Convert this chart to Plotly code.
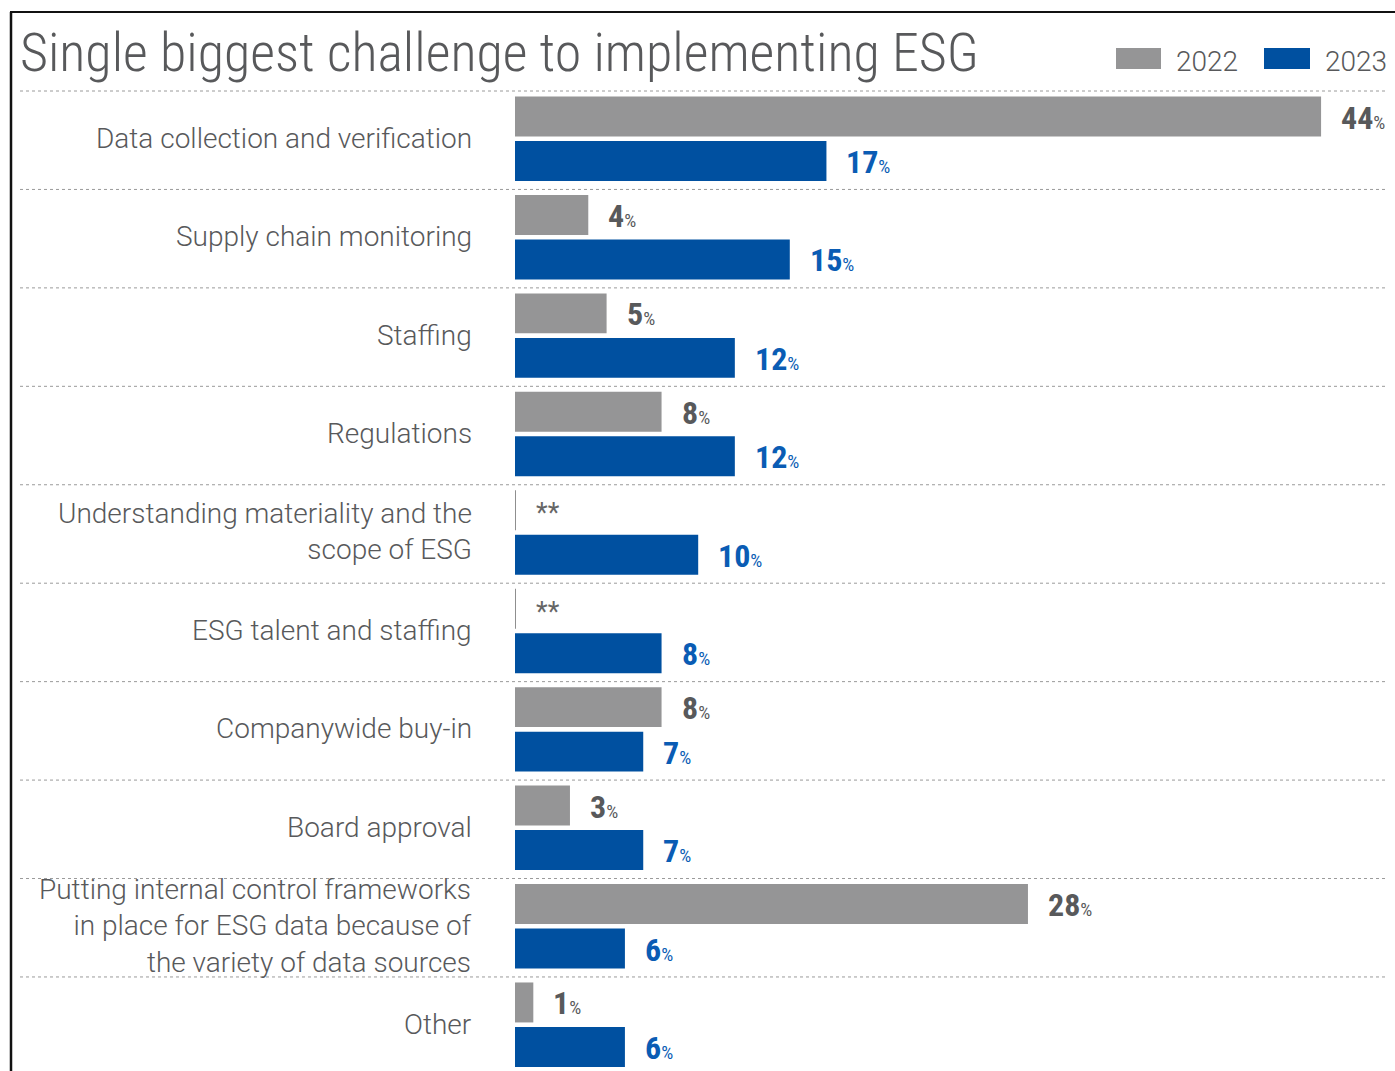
import plotly.graph_objects as go

W, H = 1395, 1071

title_text = "Single biggest challenge to implementing ESG"
categories = [
    "Data collection and verification",
    "Supply chain monitoring",
    "Staffing",
    "Regulations",
    "Understanding materiality and the<br>scope of ESG",
    "ESG talent and staffing",
    "Companywide buy-in",
    "Board approval",
    "Putting internal control frameworks<br>in place for ESG data because of<br>the variety of data sources",
    "Other",
]
values_2022 = [44, 4, 5, 8, None, None, 8, 3, 28, 1]
values_2023 = [17, 15, 12, 12, 10, 8, 7, 7, 6, 6]
series_names = ["2022", "2023"]

GRAY = "#959596"
BLUE = "#0050A0"
GRAY_TXT = "#58595b"
BLUE_TXT = "#0a5cb4"
LABEL_TXT = "#58595b"

OFF_A, OFF_B, BAR_W = 0.259, 0.711, 0.406
n = len(categories)
rows = list(range(n))

fig = go.Figure()
fig.add_trace(go.Bar(
    y=[r + OFF_A for r in rows], x=[v if v is not None else 0 for v in values_2022],
    orientation="h", width=BAR_W, marker=dict(color=GRAY, line=dict(width=0)),
    name=series_names[0], showlegend=False, hoverinfo="x"))
fig.add_trace(go.Bar(
    y=[r + OFF_B for r in rows], x=values_2023,
    orientation="h", width=BAR_W, marker=dict(color=BLUE, line=dict(width=0)),
    name=series_names[1], showlegend=False, hoverinfo="x"))

ann = []
shapes = []
COND = "Roboto Condensed, Roboto, sans-serif"
LIGHT = "Roboto, sans-serif"

def val_label(v):
    return f"<b>{v}</b><span style='font-size:19px'>%</span>"

for r, cat, a, b in zip(rows, categories, values_2022, values_2023):
    ann.append(dict(x=474 / W, xref="paper", y=r + 0.5, yref="y", text=cat,
                    xanchor="right", yanchor="middle", align="right", showarrow=False,
                    font=dict(family=LIGHT, size=28, color=LABEL_TXT, weight=300),
                    yshift=2))
    if a is None:
        ann.append(dict(x=0, y=r + OFF_A, xref="x", yref="y", text="**", xanchor="left",
                        yanchor="middle", showarrow=False, xshift=19, yshift=-3,
                        font=dict(family=LIGHT, size=27, color="#666666")))
        shapes.append(dict(type="line", xref="x", yref="y", x0=0, x1=0,
                           y0=r + OFF_A - BAR_W / 2, y1=r + OFF_A + BAR_W / 2,
                           line=dict(color="#8f8f8f", width=2)))
    else:
        ann.append(dict(x=a, y=r + OFF_A, xref="x", yref="y", text=val_label(a),
                        xanchor="left", yanchor="middle", showarrow=False, xshift=18, yshift=-1,
                        font=dict(family=COND, size=32, color=GRAY_TXT)))
    ann.append(dict(x=b, y=r + OFF_B, xref="x", yref="y", text=val_label(b),
                    xanchor="left", yanchor="middle", showarrow=False, xshift=18, yshift=-1,
                    font=dict(family=COND, size=32, color=BLUE_TXT)))

# separators
for r in rows:
    shapes.append(dict(type="line", xref="paper", yref="y", x0=20 / W, x1=1388 / W,
                       y0=r, y1=r, line=dict(color="#9a9a9a", width=1, dash="dot")))

# frame
shapes.append(dict(type="line", xref="paper", yref="paper", x0=10 / W, x1=1.0,
                   y0=1 - 12 / H, y1=1 - 12 / H, line=dict(color="#111111", width=2)))
shapes.append(dict(type="line", xref="paper", yref="paper", x0=11 / W, x1=11 / W,
                   y0=0, y1=1 - 12 / H, line=dict(color="#111111", width=2.5)))

# legend
for (x0, x1, col, tx, name) in [(1116, 1161, GRAY, 1174, series_names[0]),
                                (1264, 1310, BLUE, 1323, series_names[1])]:
    shapes.append(dict(type="rect", xref="paper", yref="paper", x0=x0 / W, x1=x1 / W,
                       y0=1 - 69 / H, y1=1 - 48 / H, fillcolor=col, line=dict(width=0)))
    ann.append(dict(x=tx / W, y=1 - 61 / H, xref="paper", yref="paper", text=name,
                    xanchor="left", yanchor="middle", showarrow=False,
                    font=dict(family=LIGHT, size=28, color=LABEL_TXT, weight=300)))

# title
ann.append(dict(x=18 / W, y=1 - 52 / H, xref="paper", yref="paper", text=title_text,
                xanchor="left", yanchor="middle", showarrow=False,
                font=dict(family=COND, size=54, color="#58595b", weight=300)))

fig.update_layout(
    width=W, height=H, margin=dict(l=0, r=0, t=0, b=0),
    paper_bgcolor="white", plot_bgcolor="white", barmode="overlay",
    xaxis=dict(domain=[515 / W, 1], range=[0, 880 / 18.32], visible=False, fixedrange=True),
    yaxis=dict(domain=[0, 1], range=[(H - 91) / 98.44, -91 / 98.44], visible=False, fixedrange=True),
    annotations=ann, shapes=shapes, showlegend=False,
)

fig.write_html("out.html")
